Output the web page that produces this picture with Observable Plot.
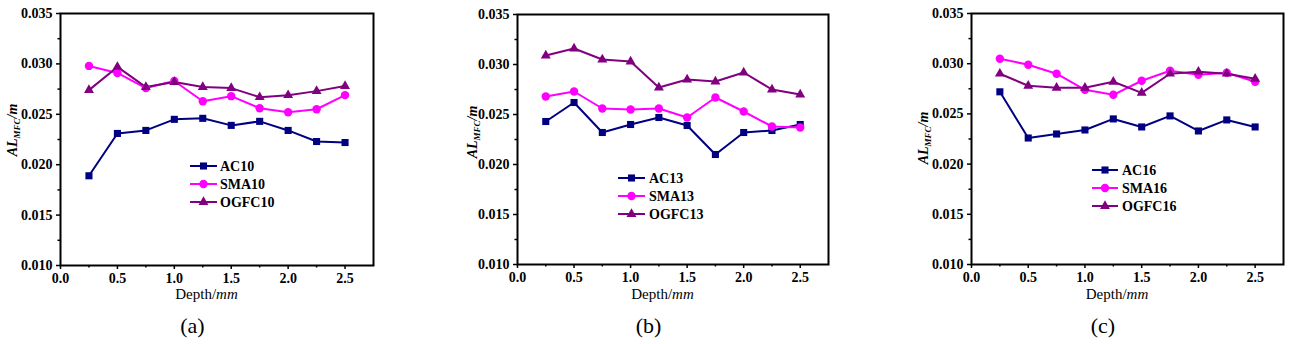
<!DOCTYPE html>
<html><head><meta charset="utf-8">
<script src="https://cdn.jsdelivr.net/npm/d3@7"></script>
<script src="https://cdn.jsdelivr.net/npm/@observablehq/plot@0.6"></script>
<style>
body{margin:0;background:#fff;}
#wrap{position:relative;width:1290px;height:344px;overflow:hidden;}
#wrap svg{position:absolute;top:0;}
</style></head><body><div id="wrap"></div>
<script>
const depth = [0.25, 0.5, 0.75, 1.0, 1.25, 1.5, 1.75, 2.0, 2.25, 2.5];

const ac10   = [0.0189, 0.0231, 0.0234, 0.0245, 0.0246, 0.0239, 0.0243, 0.0234, 0.0223, 0.0222];
const sma10  = [0.0298, 0.0291, 0.0276, 0.0283, 0.0263, 0.0268, 0.0256, 0.0252, 0.0255, 0.0269];
const ogfc10 = [0.0274, 0.0297, 0.0277, 0.0282, 0.0277, 0.0276, 0.0267, 0.0269, 0.0273, 0.0278];

const ac13   = [0.0243, 0.0262, 0.0232, 0.0240, 0.0247, 0.0239, 0.0210, 0.0232, 0.0234, 0.0240];
const sma13  = [0.0268, 0.0273, 0.0256, 0.0255, 0.0256, 0.0247, 0.0267, 0.0253, 0.0238, 0.0237];
const ogfc13 = [0.0309, 0.0316, 0.0305, 0.0303, 0.0277, 0.0285, 0.0283, 0.0292, 0.0275, 0.0270];

const ac16   = [0.0272, 0.0226, 0.0230, 0.0234, 0.0245, 0.0237, 0.0248, 0.0233, 0.0244, 0.0237];
const sma16  = [0.0305, 0.0299, 0.0290, 0.0274, 0.0269, 0.0283, 0.0293, 0.0289, 0.0291, 0.0282];
const ogfc16 = [0.0290, 0.0278, 0.0276, 0.0276, 0.0282, 0.0271, 0.0290, 0.0292, 0.0290, 0.0285];

const seriesNames10 = ["AC10", "SMA10", "OGFC10"];
const seriesNames13 = ["AC13", "SMA13", "OGFC13"];
const seriesNames16 = ["AC16", "SMA16", "OGFC16"];
const panelLabels = ["(a)", "(b)", "(c)"];

const xTicks = [0, 0.5, 1.0, 1.5, 2.0, 2.5];
const xMinorTicks = [0.25, 0.75, 1.25, 1.75, 2.25];
const yTicks = [0.010, 0.015, 0.020, 0.025, 0.030, 0.035];
const yMinorTicks = [0.0125, 0.0175, 0.0225, 0.0275, 0.0325];

const colors = ["#000080", "#ff00ff", "#800080"];
const symbols = ["square", "circle", "triangle"];
const symbolR = [4, 4.2, 3.7];

const panels = [
  {names: seriesNames10, values: [ac10, sma10, ogfc10], left: 0,   ml: 60,  mr: 57, mt: 13, bottom: 265, legend: {x1: 190, x2: 217, tx: 220, y0: 166}, ylab: {x: 12, y: 130}},
  {names: seriesNames13, values: [ac13, sma13, ogfc13], left: 430, ml: 87,  mr: 32, mt: 14, bottom: 264, legend: {x1: 188, x2: 215, tx: 219, y0: 178}, ylab: {x: 42, y: 132}},
  {names: seriesNames16, values: [ac16, sma16, ogfc16], left: 860, ml: 111, mr: 7,  mt: 13, bottom: 264, legend: {x1: 232, x2: 258, tx: 262, y0: 170}, ylab: {x: 63, y: 138}}
];

const W = 430, H = 344;
const serif = "Liberation Serif";
const wrap = document.getElementById("wrap");

panels.forEach((p, pi) => {
  const rows = [];
  p.names.forEach((name, si) => {
    depth.forEach((d, i) => rows.push({series: name, depth: d, value: p.values[si][i], idx: si}));
  });
  const svg = Plot.plot({
    width: W, height: H,
    marginLeft: p.ml, marginRight: p.mr, marginTop: p.mt, marginBottom: H - p.bottom,
    x: {domain: [0, 2.75]},
    y: {domain: [0.010, 0.035]},
    color: {domain: p.names, range: colors},
    symbol: {domain: p.names, range: symbols},
    style: {fontFamily: serif, fontSize: "14px", background: "white", color: "black"},
    marks: [
      Plot.axisY({ticks: yTicks, tickSize: 4, tickPadding: 4, strokeWidth: 1.5, tickFormat: d3.format(".3f"), label: null, fontWeight: "bold"}),
      Plot.axisY({ticks: yMinorTicks, tickSize: 2.5, strokeWidth: 1.5, tickFormat: () => "", label: null}),
      Plot.axisX({ticks: xTicks, tickSize: 4, tickPadding: 4, strokeWidth: 1.5, tickFormat: d3.format(".1f"), label: null, fontWeight: "bold"}),
      Plot.axisX({ticks: xMinorTicks, tickSize: 2.5, strokeWidth: 1.5, tickFormat: () => "", label: null}),
      Plot.line(rows, {x: "depth", y: "value", z: "series", stroke: "series", strokeWidth: 2}),
      ...p.names.map((name, si) => Plot.dot(rows.filter(r => r.series === name), {x: "depth", y: "value", fill: "series", symbol: "series", r: symbolR[si], stroke: "none"})),
      Plot.frame({stroke: "black", strokeWidth: 2})
    ]
  });
  svg.style.left = p.left + "px";
  wrap.appendChild(svg);

  const s = d3.select(svg);
  // legend
  p.names.forEach((name, si) => {
    const y = p.legend.y0 + si * 18;
    s.append("line").attr("x1", p.legend.x1).attr("x2", p.legend.x2).attr("y1", y).attr("y2", y)
      .attr("stroke", colors[si]).attr("stroke-width", 2);
    const sym = symbols[si] === "square" ? d3.symbolSquare : symbols[si] === "circle" ? d3.symbolCircle : d3.symbolTriangle;
    s.append("path").attr("d", d3.symbol(sym, Math.PI * symbolR[si] * symbolR[si])())
      .attr("transform", `translate(${(p.legend.x1 + p.legend.x2) / 2},${y})`).attr("fill", colors[si]);
    s.append("text").attr("x", p.legend.tx).attr("y", y).attr("dy", "0.35em").attr("text-anchor", "start")
      .attr("font-family", serif).attr("font-size", 14).attr("font-weight", "bold").text(name);
  });
  // y label
  const yl = s.append("text").attr("transform", `translate(${p.ylab.x},${p.ylab.y}) rotate(-90)`)
    .attr("text-anchor", "middle").attr("dy", "0.35em").attr("font-family", serif).attr("font-size", 14)
    .attr("font-weight", "bold").attr("font-style", "italic");
  yl.append("tspan").text("AL");
  yl.append("tspan").attr("font-size", 9).attr("dy", "0.35em").text("MFC");
  yl.append("tspan").attr("dy", "-0.25em").text("/m");
  // x label
  const cx = (p.ml + (W - p.mr)) / 2;
  const xl = s.append("text").attr("x", cx - 10).attr("y", 299).attr("text-anchor", "middle")
    .attr("font-family", serif).attr("font-size", 15);
  xl.append("tspan").text("Depth/");
  xl.append("tspan").attr("font-style", "italic").text("mm");
  // panel caption
  s.append("text").attr("x", cx - 24).attr("y", 333).attr("text-anchor", "middle")
    .attr("font-family", serif).attr("font-size", 22).text(panelLabels[pi]);
});
</script>
</body></html>
